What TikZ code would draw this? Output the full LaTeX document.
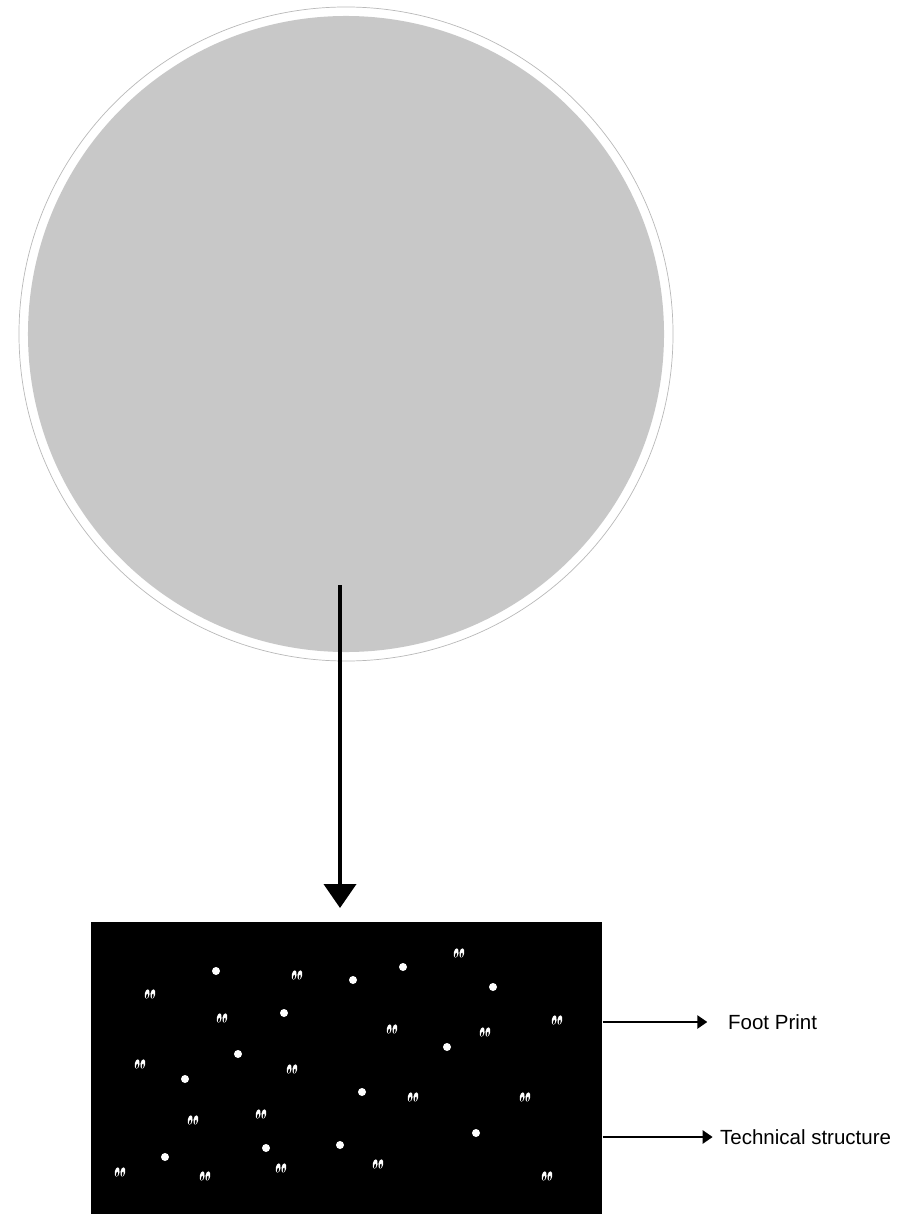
\documentclass[tikz,border=0pt]{standalone}
\usepackage{fontspec}
\setmainfont{Liberation Sans}
\usepackage{tikz}
\usetikzlibrary{arrows.meta}
\usetikzlibrary{positioning}
\usetikzlibrary{calc}

\definecolor{samplegray}{RGB}{200,200,200}
\definecolor{ringgray}{RGB}{185,185,185}

\begin{document}
\begin{tikzpicture}[x=0.03cm, y=-0.03cm,
    label/.style={anchor=west, font=\fontsize{17.5}{20}\selectfont},
    footprint/.pic={
        \fill[white, rotate=-10] (-2.8,0.5) ellipse (2.4 and 4.8);
        \fill[white, rotate=-10] (2.8,-0.5) ellipse (2.4 and 4.8);
        \fill[black, rotate=-10] (-2.6,2.6) ellipse (0.9 and 2.4);
        \fill[black, rotate=-10] (3.0,1.6) ellipse (0.9 and 2.4);
    }]
    \useasboundingbox (0,0) rectangle (913,1214);

    % 圆形样品
    \node (sample) [circle, draw=ringgray, line width=0.6pt, fill=white, minimum size=19.62cm] at (346,334) {};
    \node (core) [circle, fill=samplegray, minimum size=19.08cm] at (346,334) {};

    % 黑色放大区域
    \node (box) [anchor=north west, fill=black, inner sep=0, minimum width=15.33cm, minimum height=8.76cm] at (91,922) {};

    % 白点
    \foreach \p in {(216,971),(353,980),(403,967),(493,987),(284,1013),(238,1054),
                    (185,1079),(447,1047),(362,1092),(476,1133),(266,1148),(340,1145),(165,1157)}
        \fill[white] \p circle (4);

    % 脚印
    \foreach \p in {(459,953),(297,975),(150,994),(222,1018),(392,1029),(485,1032),
                    (557,1020),(140,1064),(292,1069),(413,1097),(525,1097),(193,1120),
                    (261,1114),(120,1172),(205,1176),(281,1168),(378,1164),(547,1176)}
        \pic at \p {footprint};

    % 向下箭头
    \coordinate (probe) at (340,585);
    \draw[line width=3.4pt, -{Triangle[width=0.96cm, length=0.72cm]}, shorten >=0.42cm]
        (probe) -- (probe |- box.north);

    % 标签及箭头
    \node (fp) [label] at (724,1022) {Foot Print};
    \node (ts) [label] at (716,1137) {Technical structure};
    \draw[line width=2.4pt, -{Triangle[width=0.39cm, length=0.3cm]}, shorten >=0.5cm]
        (box.east |- fp.west) -- (fp.west);
    \draw[line width=2.4pt, -{Triangle[width=0.39cm, length=0.3cm]}, shorten >=0.1cm]
        (box.east |- ts.west) -- (ts.west);
\end{tikzpicture}
\end{document}
